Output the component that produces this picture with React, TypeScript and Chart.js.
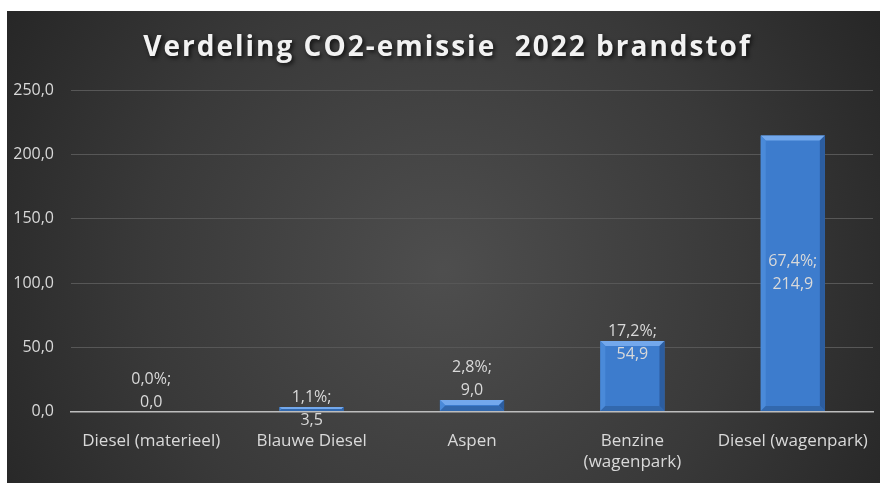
import React, { useEffect, useRef } from 'react';
import { Chart, registerables } from 'chart.js';

Chart.register(...registerables);

const TITLE = 'Verdeling CO2-emissie  2022 brandstof';
const categories: string[][] = [
  ['Diesel (materieel)'],
  ['Blauwe Diesel'],
  ['Aspen'],
  ['Benzine', '(wagenpark)'],
  ['Diesel (wagenpark)'],
];
const values = [0.0, 3.5, 9.0, 54.9, 214.9];
const percentages = [0.0, 1.1, 2.8, 17.2, 67.4];
// where each data label sits relative to its bar
const labelPlacement = ['above', 'top', 'above', 'top', 'center'];
const yMin = 0;
const yMax = 250;
const yStep = 50;

const FONT = "'Open Sans', 'Noto Sans', sans-serif";
const TEXT = '#d9d9d9';

const fmt = (v: number) => v.toFixed(1).replace('.', ',');

const backgroundPlugin = {
  id: 'bgGradient',
  beforeDraw(chart: any) {
    const { ctx, width, height } = chart;
    ctx.save();
    const cx = width * 0.5;
    const cy = height * 0.55;
    const g = ctx.createRadialGradient(cx, cy, 0, cx, cy, Math.hypot(width, height) * 0.55);
    g.addColorStop(0, '#4e4e4e');
    g.addColorStop(0.55, '#393939');
    g.addColorStop(1, '#232323');
    ctx.fillStyle = g;
    ctx.fillRect(0, 0, width, height);
    ctx.restore();
  },
};

const titlePlugin = {
  id: 'fancyTitle',
  afterDraw(chart: any) {
    const { ctx, width } = chart;
    ctx.save();
    ctx.font = `bold 28px ${FONT}`;
    (ctx as any).letterSpacing = '2px';
    ctx.textAlign = 'center';
    ctx.textBaseline = 'alphabetic';
    ctx.shadowColor = 'rgba(0,0,0,0.75)';
    ctx.shadowBlur = 4;
    ctx.shadowOffsetX = 2;
    ctx.shadowOffsetY = 2;
    ctx.fillStyle = '#f2f2f2';
    ctx.fillText(TITLE, width / 2 + 4, 45);
    ctx.restore();
  },
};

const bevelPlugin = {
  id: 'bevel',
  afterDatasetsDraw(chart: any) {
    const { ctx } = chart;
    const meta = chart.getDatasetMeta(0);
    ctx.save();
    meta.data.forEach((el: any) => {
      const { x, y, base, width } = el.getProps(['x', 'y', 'base', 'width'], true);
      const h = base - y;
      if (h <= 0.5) return;
      const l = x - width / 2;
      const r = x + width / 2;
      const b = Math.min(5, h / 2);
      ctx.fillStyle = '#73a8ec';
      ctx.beginPath();
      ctx.moveTo(l, y);
      ctx.lineTo(r, y);
      ctx.lineTo(r - b, y + b);
      ctx.lineTo(l + b, y + b);
      ctx.closePath();
      ctx.fill();
      ctx.fillStyle = '#2c5d9f';
      ctx.beginPath();
      ctx.moveTo(r, y);
      ctx.lineTo(r, base);
      ctx.lineTo(r - b, base - b);
      ctx.lineTo(r - b, y + b);
      ctx.closePath();
      ctx.fill();
      ctx.fillStyle = '#4a8ad9';
      ctx.beginPath();
      ctx.moveTo(l, y);
      ctx.lineTo(l + b, y + b);
      ctx.lineTo(l + b, base - b);
      ctx.lineTo(l, base);
      ctx.closePath();
      ctx.fill();
      ctx.fillStyle = '#3268ad';
      ctx.beginPath();
      ctx.moveTo(l, base);
      ctx.lineTo(l + b, base - b);
      ctx.lineTo(r - b, base - b);
      ctx.lineTo(r, base);
      ctx.closePath();
      ctx.fill();
    });
    ctx.restore();
  },
};

const labelPlugin = {
  id: 'valueLabels',
  afterDatasetsDraw(chart: any) {
    const { ctx } = chart;
    const meta = chart.getDatasetMeta(0);
    ctx.save();
    ctx.font = `16px ${FONT}`;
    ctx.fillStyle = TEXT;
    ctx.textAlign = 'center';
    ctx.textBaseline = 'middle';
    meta.data.forEach((el: any, i: number) => {
      const { x, y, base } = el.getProps(['x', 'y', 'base'], true);
      let c: number;
      const mode = labelPlacement[i];
      if (mode === 'center') c = (y + base) / 2;
      else if (mode === 'top') c = y + 2;
      else c = y - 21;
      ctx.fillText(`${fmt(percentages[i])}%;`, x, c - 11.5);
      ctx.fillText(fmt(values[i]), x, c + 11.5);
    });
    ctx.restore();
  },
};

export default function App() {
  const ref = useRef<HTMLCanvasElement>(null);
  useEffect(() => {
    if (!ref.current) return;
    const chart = new Chart(ref.current, {
      type: 'bar',
      data: {
        labels: categories,
        datasets: [
          {
            data: values,
            backgroundColor: '#3d7ccd',
            borderWidth: 0,
            barPercentage: 0.4,
            categoryPercentage: 1,
          },
        ],
      },
      options: {
        animation: false,
        responsive: true,
        maintainAspectRatio: false,
        layout: { padding: { top: 79.5, right: 7, bottom: 0, left: 0 } },
        plugins: {
          legend: { display: false },
          title: { display: false },
          tooltip: { enabled: false },
        },
        scales: {
          x: {
            grid: { display: false },
            border: { display: true, color: '#bdbdbd', width: 1.5 },
            ticks: {
              color: TEXT,
              font: { family: FONT, size: 17, lineHeight: 1.25 },
              padding: 11,
              maxRotation: 0,
              autoSkip: false,
            },
            afterFit(scale: any) {
              scale.height = 71.5;
            },
          },
          y: {
            min: yMin,
            max: yMax,
            ticks: {
              stepSize: yStep,
              color: TEXT,
              font: { family: FONT, size: 16 },
              padding: 17,
              callback: (v: any) => fmt(Number(v)),
            },
            grid: { color: '#575757', lineWidth: 1, drawTicks: false },
            border: { display: false },
            afterFit(scale: any) {
              scale.width = 64;
            },
          },
        },
      },
      plugins: [backgroundPlugin, bevelPlugin, labelPlugin, titlePlugin],
    });
    return () => chart.destroy();
  }, []);

  return (
    <div style={{ position: 'fixed', left: 0, top: 0, width: 880, height: 487, background: '#ffffff' }}>
      <div style={{ position: 'absolute', left: 7, top: 11, width: 873, height: 472 }}>
        <canvas ref={ref} />
      </div>
    </div>
  );
}
